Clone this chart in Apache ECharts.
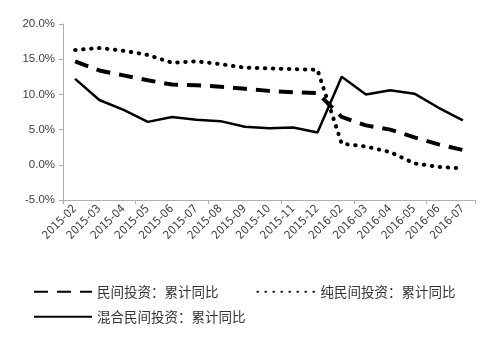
<!DOCTYPE html>
<html><head><meta charset="utf-8">
<script src="https://cdn.jsdelivr.net/npm/echarts@6/dist/echarts.min.js"></script>
<style>html,body{margin:0;padding:0;background:#fff}#c{width:500px;height:340px}</style>
</head><body><div id="c"></div>
<script>
const categories = ['2015-02','2015-03','2015-04','2015-05','2015-06','2015-07','2015-08','2015-09','2015-10','2015-11','2015-12','2016-02','2016-03','2016-04','2016-05','2016-06','2016-07'];
const privateInv = [14.7,13.4,12.7,12.0,11.4,11.3,11.1,10.8,10.5,10.3,10.2,6.8,5.6,5.0,3.9,2.9,2.1];
const purePrivate = [16.3,16.6,16.2,15.6,14.5,14.7,14.3,13.8,13.7,13.6,13.5,3.0,2.6,1.8,0.2,-0.3,-0.5];
const mixedPrivate = [12.2,9.2,7.8,6.1,6.8,6.4,6.2,5.4,5.2,5.3,4.6,12.5,10.0,10.6,10.1,8.1,6.3];
const yTicks = {min:-5, max:20, interval:5};
const names = ['民间投资：累计同比','纯民间投资：累计同比','混合民间投资：累计同比'];

const chart = echarts.init(document.getElementById('c'), null, {renderer:'canvas'});
const axisGrey = '#b0b0b0';
const txt = '#404040';
const legendText = {fontFamily:'Noto Sans CJK SC', fontSize:13.5, color:'#333'};
chart.setOption({
  animation:false,
  backgroundColor:'#fff',
  grid:{left:63, right:25, top:24, bottom:140},
  legend:[
    {data:[names[0], names[1]], left:28, top:280, itemWidth:58, itemHeight:14, itemGap:38,
     itemStyle:{opacity:0}, textStyle:legendText},
    {data:[names[2]], left:28, top:305, itemWidth:58, itemHeight:14,
     itemStyle:{opacity:0}, textStyle:legendText}
  ],
  xAxis:[
    {type:'category', data:categories, boundaryGap:true, position:'bottom',
     axisLine:{show:false}, axisTick:{show:false},
     axisLabel:{rotate:45, interval:0, margin:7, fontSize:11.5, color:txt, fontFamily:'DejaVu Sans Condensed, Liberation Sans'}},
    {type:'category', data:categories, boundaryGap:true, position:'bottom',
     axisLine:{show:true, onZero:true, lineStyle:{color:axisGrey, width:1}},
     axisTick:{show:true, length:4, lineStyle:{color:axisGrey}},
     axisLabel:{show:false}}
  ],
  yAxis:{type:'value', min:yTicks.min, max:yTicks.max, interval:yTicks.interval,
    axisLine:{show:true, lineStyle:{color:axisGrey}},
    axisTick:{show:true, length:4, lineStyle:{color:axisGrey}},
    splitLine:{show:false},
    axisLabel:{formatter:v=>v.toFixed(1)+'%', fontSize:11.5, color:txt, margin:8, fontFamily:'Liberation Sans'}},
  series:[
    {name:names[0], type:'line', data:privateInv, xAxisIndex:1, symbol:'none',
     lineStyle:{color:'#000', width:4, type:[14,9]}, itemStyle:{color:'#000'}},
    {name:names[1], type:'line', data:purePrivate, xAxisIndex:1, symbol:'none',
     lineStyle:{color:'#000', width:4, type:[0.5,7.5], cap:'round'}, itemStyle:{color:'#000'}},
    {name:names[2], type:'line', data:mixedPrivate, xAxisIndex:1, symbol:'none',
     lineStyle:{color:'#000', width:2.5}, itemStyle:{color:'#000'}}
  ]
});
</script></body></html>
